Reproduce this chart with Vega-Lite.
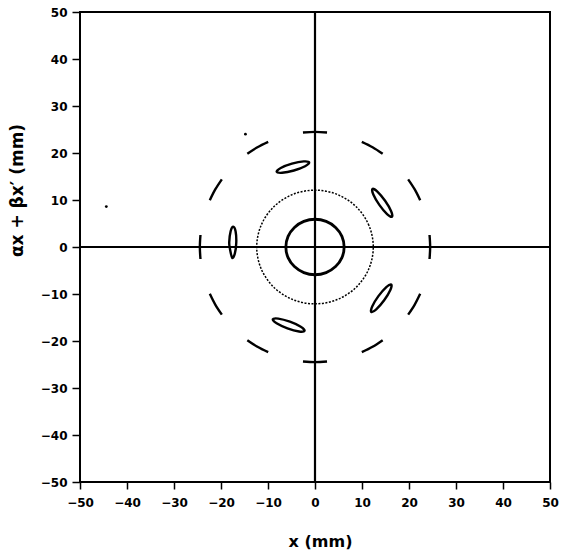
{
  "$schema": "https://vega.github.io/schema/vega-lite/v6.json",
  "autosize": "none",
  "width": 470,
  "height": 470,
  "padding": {"left": 80, "top": 12, "right": 19, "bottom": 75},
  "background": "white",
  "config": {
    "view": {"stroke": "black", "strokeWidth": 2},
    "font": "DejaVu Sans"
  },
  "datasets": {
    "zero": [{"v": 0}],
    "inner": [
      {"i": 0, "x": 6.2, "y": 0}, {"i": 1, "x": 5.73, "y": 2.26}, {"i": 2, "x": 4.38, "y": 4.17}, {"i": 3, "x": 2.37, "y": 5.45},
      {"i": 4, "x": 0, "y": 5.9}, {"i": 5, "x": -2.37, "y": 5.45}, {"i": 6, "x": -4.38, "y": 4.17}, {"i": 7, "x": -5.73, "y": 2.26},
      {"i": 8, "x": -6.2, "y": 0}, {"i": 9, "x": -5.73, "y": -2.26}, {"i": 10, "x": -4.38, "y": -4.17}, {"i": 11, "x": -2.37, "y": -5.45},
      {"i": 12, "x": 0, "y": -5.9}, {"i": 13, "x": 2.37, "y": -5.45}, {"i": 14, "x": 4.38, "y": -4.17}, {"i": 15, "x": 5.73, "y": -2.26}
    ],
    "dotted": [
      {"i": 0, "x": 12.4, "y": 0}, {"i": 1, "x": 11.46, "y": 4.63}, {"i": 2, "x": 8.77, "y": 8.56}, {"i": 3, "x": 4.75, "y": 11.18},
      {"i": 4, "x": 0, "y": 12.1}, {"i": 5, "x": -4.75, "y": 11.18}, {"i": 6, "x": -8.77, "y": 8.56}, {"i": 7, "x": -11.46, "y": 4.63},
      {"i": 8, "x": -12.4, "y": 0}, {"i": 9, "x": -11.46, "y": -4.63}, {"i": 10, "x": -8.77, "y": -8.56}, {"i": 11, "x": -4.75, "y": -11.18},
      {"i": 12, "x": 0, "y": -12.1}, {"i": 13, "x": 4.75, "y": -11.18}, {"i": 14, "x": 8.77, "y": -8.56}, {"i": 15, "x": 11.46, "y": -4.63}
    ],
    "arcs": [
      {"a": 0, "i": 0, "x": 24.37, "y": -2.56}, {"a": 0, "i": 1, "x": 24.5, "y": 0}, {"a": 0, "i": 2, "x": 24.37, "y": 2.56},
      {"a": 1, "i": 0, "x": 22.38, "y": 9.96}, {"a": 1, "i": 1, "x": 21.22, "y": 12.25}, {"a": 1, "i": 2, "x": 19.82, "y": 14.4},
      {"a": 2, "i": 0, "x": 14.4, "y": 19.82}, {"a": 2, "i": 1, "x": 12.25, "y": 21.22}, {"a": 2, "i": 2, "x": 9.96, "y": 22.38},
      {"a": 3, "i": 0, "x": 2.56, "y": 24.37}, {"a": 3, "i": 1, "x": 0, "y": 24.5}, {"a": 3, "i": 2, "x": -2.56, "y": 24.37},
      {"a": 4, "i": 0, "x": -9.96, "y": 22.38}, {"a": 4, "i": 1, "x": -12.25, "y": 21.22}, {"a": 4, "i": 2, "x": -14.4, "y": 19.82},
      {"a": 5, "i": 0, "x": -19.82, "y": 14.4}, {"a": 5, "i": 1, "x": -21.22, "y": 12.25}, {"a": 5, "i": 2, "x": -22.38, "y": 9.96},
      {"a": 6, "i": 0, "x": -24.37, "y": 2.56}, {"a": 6, "i": 1, "x": -24.5, "y": 0}, {"a": 6, "i": 2, "x": -24.37, "y": -2.56},
      {"a": 7, "i": 0, "x": -22.38, "y": -9.96}, {"a": 7, "i": 1, "x": -21.22, "y": -12.25}, {"a": 7, "i": 2, "x": -19.82, "y": -14.4},
      {"a": 8, "i": 0, "x": -14.4, "y": -19.82}, {"a": 8, "i": 1, "x": -12.25, "y": -21.22}, {"a": 8, "i": 2, "x": -9.96, "y": -22.38},
      {"a": 9, "i": 0, "x": -2.56, "y": -24.37}, {"a": 9, "i": 1, "x": 0, "y": -24.5}, {"a": 9, "i": 2, "x": 2.56, "y": -24.37},
      {"a": 10, "i": 0, "x": 9.96, "y": -22.38}, {"a": 10, "i": 1, "x": 12.25, "y": -21.22}, {"a": 10, "i": 2, "x": 14.4, "y": -19.82},
      {"a": 11, "i": 0, "x": 19.82, "y": -14.4}, {"a": 11, "i": 1, "x": 21.22, "y": -12.25}, {"a": 11, "i": 2, "x": 22.38, "y": -9.96}
    ],
    "islands": [
      {"k": 1, "i": 0, "x": -1.24, "y": 17.99}, {"k": 1, "i": 1, "x": -2.4, "y": 18.21}, {"k": 1, "i": 2, "x": -4.91, "y": 17.72}, {"k": 1, "i": 3, "x": -7.29, "y": 16.81},
      {"k": 1, "i": 4, "x": -8.16, "y": 16.01}, {"k": 1, "i": 5, "x": -7.0, "y": 15.79}, {"k": 1, "i": 6, "x": -4.49, "y": 16.28}, {"k": 1, "i": 7, "x": -2.11, "y": 17.19},
      {"k": 2, "i": 0, "x": 16.37, "y": 6.45}, {"k": 2, "i": 1, "x": 16.2, "y": 7.62}, {"k": 2, "i": 2, "x": 14.91, "y": 9.83}, {"k": 2, "i": 3, "x": 13.27, "y": 11.79},
      {"k": 2, "i": 4, "x": 12.23, "y": 12.35}, {"k": 2, "i": 5, "x": 12.41, "y": 11.18}, {"k": 2, "i": 6, "x": 13.69, "y": 8.97}, {"k": 2, "i": 7, "x": 15.33, "y": 7.01},
      {"k": 3, "i": 0, "x": 16.22, "y": -7.99}, {"k": 3, "i": 1, "x": 15.17, "y": -8.53}, {"k": 3, "i": 2, "x": 13.49, "y": -10.46}, {"k": 3, "i": 3, "x": 12.17, "y": -12.65},
      {"k": 3, "i": 4, "x": 11.98, "y": -13.81}, {"k": 3, "i": 5, "x": 13.03, "y": -13.27}, {"k": 3, "i": 6, "x": 14.71, "y": -11.34}, {"k": 3, "i": 7, "x": 16.03, "y": -9.15},
      {"k": 4, "i": 0, "x": -2.22, "y": -17.83}, {"k": 4, "i": 1, "x": -3.03, "y": -16.97}, {"k": 4, "i": 2, "x": -5.34, "y": -15.9}, {"k": 4, "i": 3, "x": -7.81, "y": -15.23},
      {"k": 4, "i": 4, "x": -8.98, "y": -15.37}, {"k": 4, "i": 5, "x": -8.17, "y": -16.23}, {"k": 4, "i": 6, "x": -5.86, "y": -17.31}, {"k": 4, "i": 7, "x": -3.39, "y": -17.97},
      {"k": 5, "i": 0, "x": -17.39, "y": 4.3}, {"k": 5, "i": 1, "x": -17.95, "y": 3.35}, {"k": 5, "i": 2, "x": -18.25, "y": 1.03}, {"k": 5, "i": 3, "x": -18.11, "y": -0.31},
      {"k": 5, "i": 4, "x": -17.62, "y": -2.3}, {"k": 5, "i": 5, "x": -17.05, "y": -1.35}, {"k": 5, "i": 6, "x": -16.75, "y": 0.97}, {"k": 5, "i": 7, "x": -16.89, "y": 3.31}
    ],
    "dots": [
      {"x": -14.8, "y": 24.0},
      {"x": -44.4, "y": 8.6}
    ]
  },
  "encoding": {
    "x": {
      "type": "quantitative",
      "scale": {"domain": [-50, 50], "nice": false, "zero": false},
      "axis": {
        "title": "x (mm)",
        "values": [-50, -40, -30, -20, -10, 0, 10, 20, 30, 40, 50],
        "grid": false, "domain": false,
        "tickSize": 7, "tickWidth": 1.5, "tickColor": "black",
        "labelPadding": 8, "labelFontSize": 12, "labelFontWeight": "bold", "labelColor": "black",
        "labelFlush": false,
        "titleFontSize": 16, "titleFontWeight": "bold", "titleColor": "black",
        "titleX": 240, "titleY": 59, "titleBaseline": "middle"
      }
    },
    "y": {
      "type": "quantitative",
      "scale": {"domain": [-50, 50], "nice": false, "zero": false},
      "axis": {
        "title": "αx + βx′ (mm)",
        "values": [-50, -40, -30, -20, -10, 0, 10, 20, 30, 40, 50],
        "grid": false, "domain": false,
        "tickSize": 8, "tickWidth": 1.5, "tickColor": "black",
        "labelPadding": 5, "labelFontSize": 12, "labelFontWeight": "bold", "labelColor": "black",
        "labelFlush": false,
        "titleFontSize": 17, "titleFontWeight": "bold", "titleColor": "black",
        "titleX": -63, "titleY": 178, "titleBaseline": "middle", "titleAlign": "center", "titleAngle": 270
      }
    }
  },
  "layer": [
    {
      "data": {"name": "zero"},
      "mark": {"type": "rule", "color": "black", "strokeWidth": 2.2},
      "encoding": {"x": {"field": "v", "type": "quantitative"}, "y": null}
    },
    {
      "data": {"name": "zero"},
      "mark": {"type": "rule", "color": "black", "strokeWidth": 2.2},
      "encoding": {"y": {"field": "v", "type": "quantitative"}, "x": null}
    },
    {
      "data": {"name": "inner"},
      "mark": {"type": "line", "color": "black", "strokeWidth": 2.8, "interpolate": "cardinal-closed"},
      "encoding": {"x": {"field": "x"}, "y": {"field": "y"}, "order": {"field": "i", "type": "quantitative"}}
    },
    {
      "data": {"name": "dotted"},
      "mark": {"type": "line", "color": "black", "strokeWidth": 1.5, "strokeDash": [2, 1.5], "interpolate": "cardinal-closed"},
      "encoding": {"x": {"field": "x"}, "y": {"field": "y"}, "order": {"field": "i", "type": "quantitative"}}
    },
    {
      "data": {"name": "arcs"},
      "mark": {"type": "line", "color": "black", "strokeWidth": 2.4, "interpolate": "cardinal"},
      "encoding": {"x": {"field": "x"}, "y": {"field": "y"}, "detail": {"field": "a", "type": "nominal"}, "order": {"field": "i", "type": "quantitative"}}
    },
    {
      "data": {"name": "islands"},
      "mark": {"type": "line", "color": "black", "strokeWidth": 2.4, "interpolate": "cardinal-closed"},
      "encoding": {"x": {"field": "x"}, "y": {"field": "y"}, "detail": {"field": "k", "type": "nominal"}, "order": {"field": "i", "type": "quantitative"}}
    },
    {
      "data": {"name": "dots"},
      "mark": {"type": "point", "filled": true, "color": "black", "size": 8, "opacity": 1},
      "encoding": {"x": {"field": "x"}, "y": {"field": "y"}}
    }
  ]
}
